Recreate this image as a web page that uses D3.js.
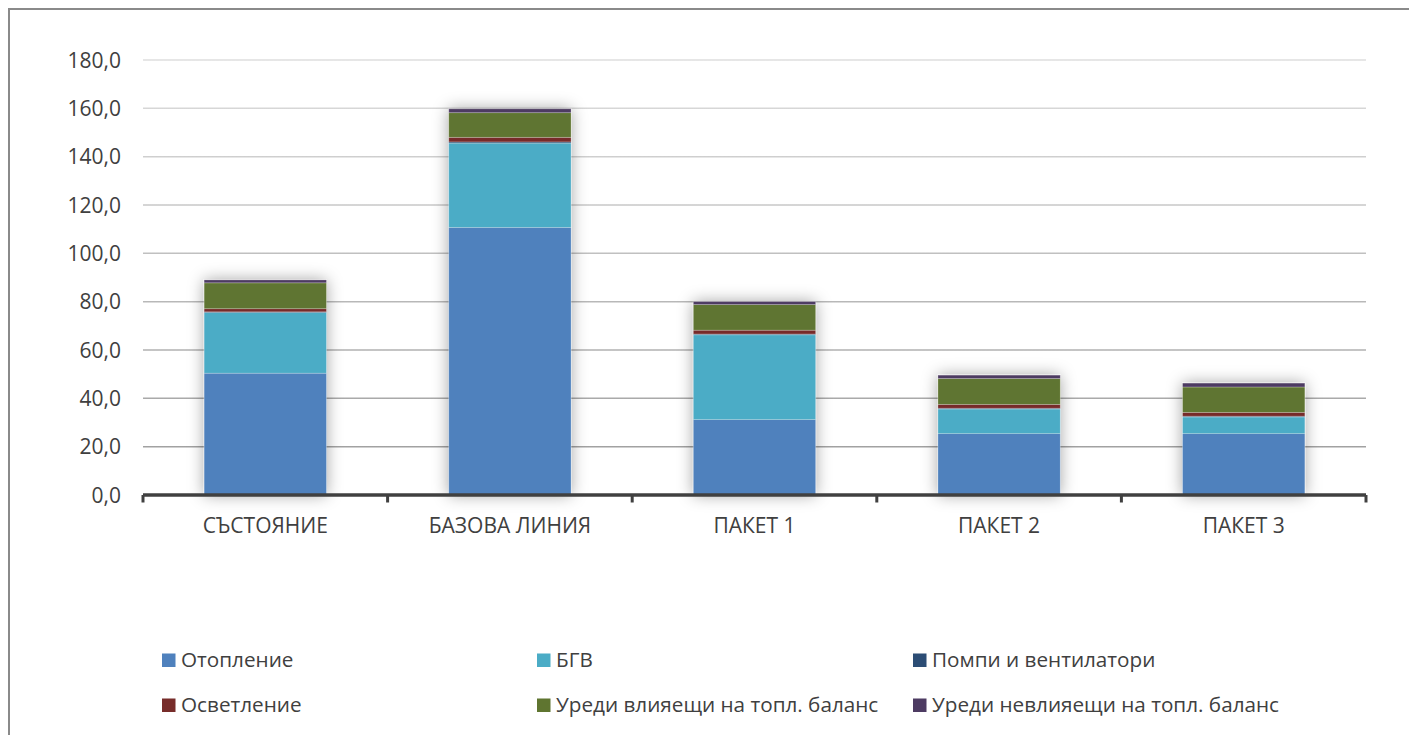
<!DOCTYPE html>
<html><head><meta charset="utf-8">
<script src="https://cdn.jsdelivr.net/npm/d3@7"></script>
<style>
html,body{margin:0;padding:0;background:#fff;}
svg{display:block;font-family:"Open Sans","Noto Sans",sans-serif;}
</style></head>
<body>
<svg id="chart" width="1409" height="735"></svg>
<script>
const categories = ["СЪСТОЯНИЕ","БАЗОВА ЛИНИЯ","ПАКЕТ 1","ПАКЕТ 2","ПАКЕТ 3"];
const seriesNames = ["Отопление","БГВ","Помпи и вентилатори","Осветление","Уреди влияещи на топл. баланс","Уреди невлияещи на топл. баланс"];
const heating      = [50.4, 110.7, 31.2, 25.4, 25.4];
const dhw          = [25.1, 34.9, 35.1, 10.2, 6.9];
const pumps        = [0.3, 0.5, 0.3, 0.3, 0.3];
const lighting     = [1.3, 1.9, 1.6, 1.6, 1.6];
const appliancesIn = [10.7, 10.2, 10.6, 10.7, 10.5];
const appliancesOut= [1.2, 1.6, 1.2, 1.4, 1.6];
const yTicks = [0,20,40,60,80,100,120,140,160,180];
const colors = ["#4F81BD","#4BACC6","#2C4D75","#772C2A","#5F7530","#4D3B62"];

const seriesValues = [heating, dhw, pumps, lighting, appliancesIn, appliancesOut];
const keys = seriesNames;
const table = categories.map((c,i)=>{
  const row = {category:c};
  keys.forEach((k,j)=>row[k]=seriesValues[j][i]);
  return row;
});

const svg = d3.select("#chart");
const defs = svg.append("defs");
const f = defs.append("filter").attr("id","shadow").attr("x","-40%").attr("y","-40%").attr("width","180%").attr("height","180%");
f.append("feDropShadow").attr("dx",0).attr("dy",0).attr("stdDeviation",8)
  .attr("flood-color","#000").attr("flood-opacity",0.36);

const grad = defs.append("linearGradient").attr("id","gridGrad")
  .attr("gradientUnits","userSpaceOnUse").attr("x1",0).attr("x2",0).attr("y1",60).attr("y2",495);
grad.append("stop").attr("offset","0%").attr("stop-color","#dedede");
grad.append("stop").attr("offset","100%").attr("stop-color","#9a9a9a");

// frame
svg.append("rect").attr("x",9).attr("y",9).attr("width",1500).attr("height",900)
  .attr("fill","none").attr("stroke","#8a8a8a").attr("stroke-width",2);

const x = d3.scaleBand().domain(categories).range([143,1366]).paddingInner(0.5).paddingOuter(0.25);
const y = d3.scaleLinear().domain([0,180]).range([495,60]);

// gridlines
svg.append("g").selectAll("line").data(yTicks.filter(d=>d>0)).join("line")
  .attr("x1",143).attr("x2",1366)
  .attr("y1",d=>y(d)).attr("y2",d=>y(d))
  .attr("stroke","url(#gridGrad)").attr("stroke-width",1.5);

// y labels
const fmt = d3.format(".1f");
svg.append("g").selectAll("text").data(yTicks).join("text")
  .attr("x",121).attr("y",d=>y(d)).attr("dy","0.36em")
  .attr("text-anchor","end").attr("font-size",21).attr("fill","#404040")
  .text(d=>fmt(d).replace(".",","));

// bars
const stack = d3.stack().keys(keys)(table);
const barG = svg.append("g");
categories.forEach((c,i)=>{
  const g = barG.append("g").attr("filter","url(#shadow)");
  stack.forEach((s,j)=>{
    const d = s[i];
    g.append("rect")
      .attr("x",x(c)).attr("width",x.bandwidth())
      .attr("y",y(d[1])).attr("height",y(d[0])-y(d[1]))
      .attr("fill",colors[j])
      .attr("stroke","rgba(255,255,255,0.3)").attr("stroke-width",0.8);
  });
});

// x axis
const axisG = svg.append("g");
axisG.append("line").attr("x1",143).attr("x2",1366).attr("y1",495).attr("y2",495)
  .attr("stroke","#404040").attr("stroke-width",3.5);
const bounds = categories.map(c=>x(c)-x.step()*x.paddingInner()/2);
bounds.push(1366);
bounds[0]=143;
axisG.selectAll("line.tick").data(bounds).join("line").attr("class","tick")
  .attr("x1",d=>d).attr("x2",d=>d).attr("y1",495).attr("y2",502.5)
  .attr("stroke","#404040").attr("stroke-width",3);
axisG.selectAll("text").data(categories).join("text")
  .attr("x",d=>x(d)+x.bandwidth()/2).attr("y",533)
  .attr("text-anchor","middle").attr("font-size",21).attr("fill","#404040")
  .text(d=>d);

// legend
const legX = [162,537,913];
const legY = [660,705];
const leg = svg.append("g");
seriesNames.forEach((n,j)=>{
  const cx = legX[j%3], cy = legY[Math.floor(j/3)];
  leg.append("rect").attr("x",cx).attr("y",cy-6.5).attr("width",13.5).attr("height",13.5).attr("fill",colors[j]);
  leg.append("text").attr("x",cx+19).attr("y",cy).attr("dy","0.36em")
    .attr("font-size",20.7).attr("fill","#404040").text(n);
});
</script>
</body></html>
